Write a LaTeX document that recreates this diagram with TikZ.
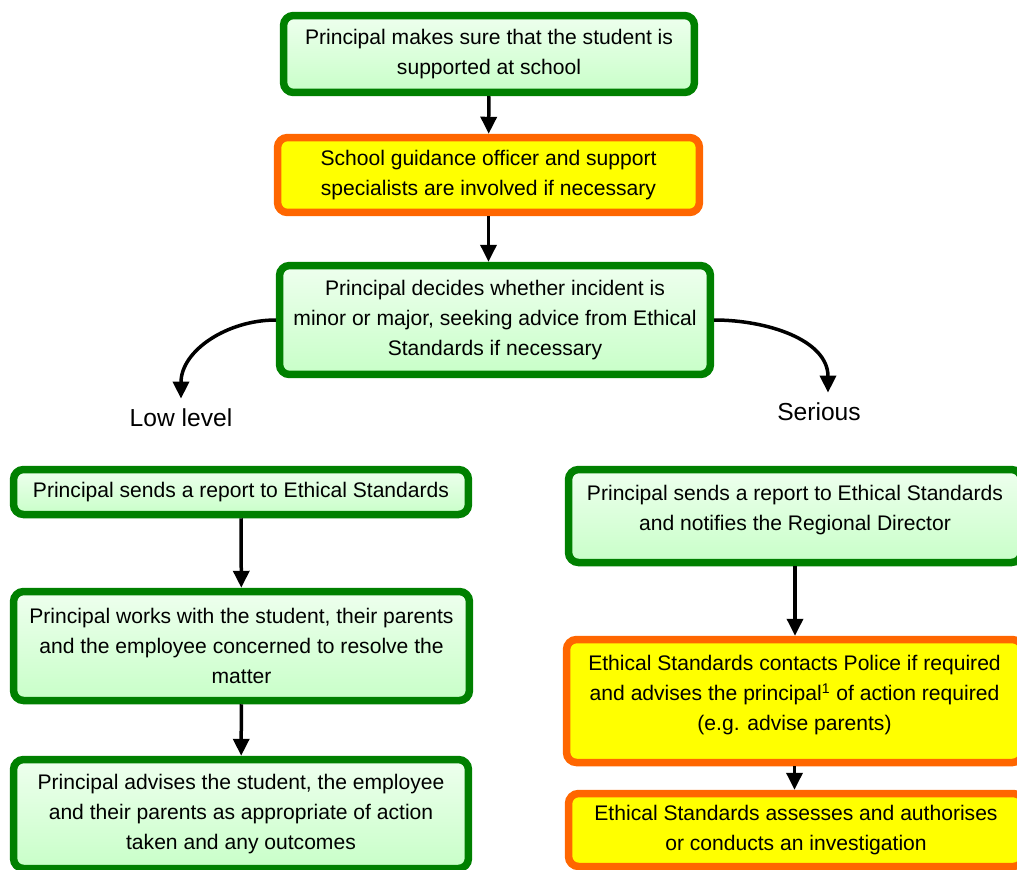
\documentclass[tikz,border=0pt]{standalone}
\usepackage{fontspec}
\setmainfont{Liberation Sans}
\usetikzlibrary{positioning,arrows.meta}
\definecolor{gline}{RGB}{0,128,0}
\definecolor{oline}{RGB}{255,102,0}
\definecolor{gtop}{RGB}{238,255,238}
\definecolor{gbot}{RGB}{200,255,200}
\definecolor{yfill}{RGB}{255,255,0}
\tikzset{
  gb/.style={rectangle, rounded corners=0.2cm, line width=0.15cm, draw=gline, top color=gtop, bottom color=gbot, align=center, inner sep=0pt, outer sep=0.075cm},
  ob/.style={rectangle, rounded corners=0.2cm, line width=0.15cm, draw=oline, fill=yfill, align=center, inner sep=0pt, outer sep=0.075cm},
  lbl/.style={inner sep=0pt, font=\fontsize{14}{17}\selectfont},
  fl/.style={-{Triangle[width=0.32cm,length=0.34cm]}, line width=0.07cm, draw=black}
}
\begin{document}
\begin{tikzpicture}[x=0.02cm, y=-0.02cm, every node/.style={font=\fontsize{12}{17}\selectfont}]
	\useasboundingbox (0,0) rectangle (1017,869);
	\node[gb, minimum width=8.22cm, minimum height=1.54cm] (care) at (489,54) {Principal makes sure that the student is\\ supported at school};
	\node[ob, minimum width=8.44cm, minimum height=1.5cm] (guide) at (488.5,175) {School guidance officer and support\\ specialists are involved if necessary};
	\node[gb, minimum width=8.62cm, minimum height=2.18cm] (decide) at (495,320) {Principal decides whether incident is\\ minor or major, seeking advice from Ethical\\ Standards if necessary};
	\node[lbl] (low) at (181,418) {Low level};
	\node[lbl] (serious) at (819,412) {Serious};
	% low level branch
	\node[gb, minimum width=9.1cm, minimum height=0.9cm] (lreport) at (241,492) {Principal sends a report to Ethical Standards};
	\node[gb, minimum width=9.12cm, minimum height=2.18cm] (lwork) at (241.5,646) {Principal works with the student, their parents\\ and the employee concerned to resolve the\\ matter};
	\node[gb, minimum width=9.1cm, minimum height=2.18cm] (ladvise) at (241,814) {Principal advises the student, the employee\\ and their parents as appropriate of action\\ taken and any outcomes};
	% serious branch
	\node[gb, minimum width=9.06cm, minimum height=1.86cm] (rreport) at (795,516) {Principal sends a report to Ethical Standards\\ and notifies the Regional Director\\[-8pt]\mbox{}};
	\node[ob, minimum width=9.12cm, minimum height=2.46cm] (police) at (794.5,701) {Ethical Standards contacts Police if required\\ and advises the principal\textsuperscript{1} of action required\\ (e.g. advise parents)\\[-8pt]\mbox{}};
	\node[ob, minimum width=9.1cm, minimum height=1.46cm] (invest) at (796,830) {Ethical Standards assesses and authorises\\ or conducts an investigation};
	%
	\draw[fl] (care) -- (guide);
	\draw[fl] (guide.south) -- (guide.south |- decide.north);
	\draw[fl] (decide.west) to[out=180,in=90] ([yshift=0.2cm]low.north);
	\draw[fl] (decide.east) to[out=0,in=90] ([xshift=0.18cm,yshift=0.2cm]serious.north);
	\draw[fl] (lreport) -- (lwork);
	\draw[fl] (lwork) -- (ladvise);
	\draw[fl] (rreport) -- (rreport.south |- police.north);
	\draw[fl] (police) -- (police.south |- invest.north);
\end{tikzpicture}
\end{document}
